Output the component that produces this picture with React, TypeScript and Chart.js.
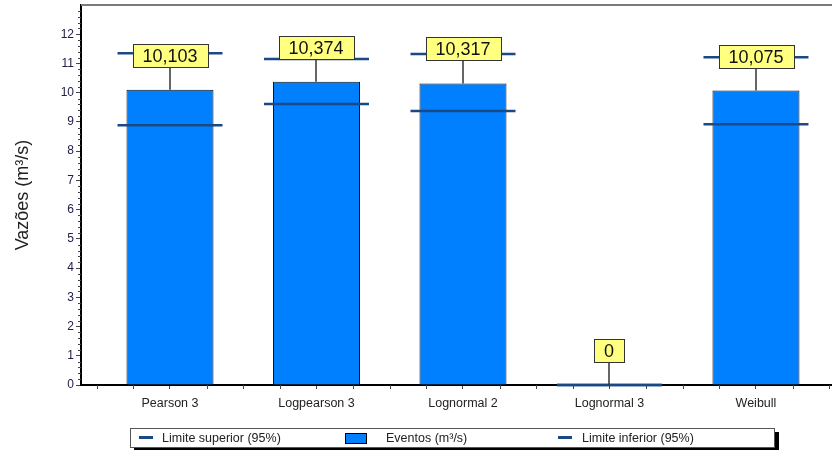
import React, { useEffect, useRef } from 'react';
import { Chart, registerables } from 'chart.js';

Chart.register(...registerables);

const categories = ['Pearson 3', 'Logpearson 3', 'Lognormal 2', 'Lognormal 3', 'Weibull'];
const eventos = [10.103, 10.374, 10.317, 0, 10.075];
const limiteSuperior = [11.35, 11.15, 11.32, 0, 11.21];
const limiteInferior = [8.89, 9.61, 9.37, 0, 8.92];
const yTickValues = [0, 1, 2, 3, 4, 5, 6, 7, 8, 9, 10, 11, 12];
const legendLabels = ['Limite superior (95%)', 'Eventos (m³/s)', 'Limite inferior (95%)'];

const FONT = "'Liberation Sans', Arial, sans-serif";
const BAR_COLOR = '#0080ff';
const LIMIT_COLOR = '#1a4a86';

const fmt = (v: number) => (v === 0 ? '0' : v.toFixed(3).replace('.', ','));

const decorPlugin = {
  id: 'decor',
  beforeDatasetsDraw(chart: any) {
    const { ctx, chartArea, scales } = chart;
    ctx.save();
    // top frame line
    ctx.strokeStyle = '#7a7a7a';
    ctx.lineWidth = 2;
    ctx.beginPath();
    ctx.moveTo(chartArea.left, chartArea.top);
    ctx.lineTo(chartArea.right, chartArea.top);
    ctx.stroke();
    // minor ticks
    ctx.strokeStyle = '#444';
    ctx.lineWidth = 1;
    const y = scales.y;
    for (let k = 0; k <= 65; k++) {
      const v = k * 0.2;
      if (k % 5 === 0) continue;
      const py = Math.round(y.getPixelForValue(v)) + 0.5;
      ctx.beginPath();
      ctx.moveTo(chartArea.left - 3, py);
      ctx.lineTo(chartArea.left, py);
      ctx.stroke();
    }
    const x = scales.x;
    for (let k = -2; k <= 18; k++) {
      const v = k * 0.25;
      if (k % 4 === 0) continue;
      const px = Math.round(x.getPixelForValue(v)) + 0.5;
      if (px > chartArea.right) continue;
      ctx.beginPath();
      ctx.moveTo(px, chartArea.bottom);
      ctx.lineTo(px, chartArea.bottom + 4);
      ctx.stroke();
    }
    ctx.restore();
  },
  afterDatasetsDraw(chart: any) {
    const { ctx } = chart;
    const meta = chart.getDatasetMeta(1);
    ctx.save();
    ctx.font = `18px ${FONT}`;
    meta.data.forEach((el: any, i: number) => {
      const text = fmt(eventos[i]);
      const top = el.y;
      const gap = 23;
      const bh = 23;
      const tw = ctx.measureText(text).width;
      const bw = Math.round(tw + 20);
      const cx = Math.round(el.x);
      ctx.strokeStyle = '#333';
      ctx.lineWidth = 1.5;
      ctx.beginPath();
      ctx.moveTo(cx, top);
      ctx.lineTo(cx, top - gap);
      ctx.stroke();
      const bx = Math.round(cx - bw / 2) + 0.5;
      const by = Math.round(top - gap - bh) + 0.5;
      ctx.fillStyle = '#ffff80';
      ctx.fillRect(bx, by, bw, bh);
      ctx.lineWidth = 1;
      ctx.strokeStyle = '#333';
      ctx.strokeRect(bx, by, bw, bh);
      ctx.fillStyle = '#111';
      ctx.textAlign = 'center';
      ctx.textBaseline = 'middle';
      ctx.fillText(text, cx, by + bh / 2 + 1);
    });
    ctx.restore();
  },
};

function ChartCanvas() {
  const ref = useRef<HTMLCanvasElement | null>(null);
  useEffect(() => {
    if (!ref.current) return;
    const chart = new Chart(ref.current, {
      type: 'bar',
      data: {
        datasets: [
          {
            type: 'scatter',
            label: legendLabels[0],
            data: limiteSuperior.map((v, i) => ({ x: i, y: v })),
            pointStyle: 'line',
            pointRadius: 52.5,
            pointBorderWidth: 2.5,
            pointBorderColor: LIMIT_COLOR,
            borderColor: LIMIT_COLOR,
            showLine: false,
            clip: false,
            order: 1,
          } as any,
          {
            type: 'bar',
            label: legendLabels[1],
            data: eventos.map((v, i) => ({ x: i, y: v })),
            backgroundColor: BAR_COLOR,
            borderColor: '#111',
            borderWidth: 1,
            barPercentage: 0.594,
            categoryPercentage: 1,
            order: 2,
          } as any,
          {
            type: 'scatter',
            label: legendLabels[2],
            data: limiteInferior.map((v, i) => ({ x: i, y: v })),
            pointStyle: 'line',
            pointRadius: 52.5,
            pointBorderWidth: 2.5,
            pointBorderColor: LIMIT_COLOR,
            borderColor: LIMIT_COLOR,
            showLine: false,
            clip: false,
            order: 1,
          } as any,
        ],
      },
      options: {
        responsive: false,
        animation: false,
        events: [],
        layout: { autoPadding: false, padding: { top: 5, bottom: 35, left: 0, right: 0 } },
        plugins: { legend: { display: false }, tooltip: { enabled: false } },
        scales: {
          x: {
            type: 'linear',
            min: -0.6075,
            max: 4.519,
            offset: false,
            afterBuildTicks: (s: any) => {
              s.ticks = categories.map((_, i) => ({ value: i }));
            },
            afterFit: (s: any) => {
              s.height = 30;
              s.paddingLeft = 0;
              s.paddingRight = 0;
            },
            ticks: {
              callback: (v: any) => categories[Math.round(Number(v))] ?? '',
              font: { family: FONT, size: 12.5 },
              color: '#222',
              padding: 7,
              autoSkip: false,
              maxRotation: 0,
            },
            grid: { display: true, offset: false, drawOnChartArea: false, drawTicks: true, tickLength: 4, color: '#444' },
            border: { display: true, color: '#000', width: 2 },
          },
          y: {
            type: 'linear',
            min: 0,
            max: 13,
            afterBuildTicks: (s: any) => {
              s.ticks = yTickValues.map((v) => ({ value: v }));
            },
            afterFit: (s: any) => {
              s.width = 81;
              s.paddingTop = 0;
              s.paddingBottom = 0;
            },
            ticks: {
              callback: (v: any) => String(v),
              font: { family: FONT, size: 12 },
              color: '#20204a',
              padding: 2,
              autoSkip: false,
            },
            grid: { display: true, drawOnChartArea: false, drawTicks: true, tickLength: 5, color: '#444' },
            border: { display: true, color: '#000', width: 2 },
            title: {
              display: true,
              text: 'Vazões (m³/s)',
              font: { family: FONT, size: 18 },
              color: '#222',
              padding: { top: 12, bottom: 0 },
            },
          },
        },
      },
      plugins: [decorPlugin],
    } as any);
    return () => chart.destroy();
  }, []);
  return <canvas ref={ref} width={832} height={450} style={{ display: 'block' }} />;
}

function Legend() {
  const text: React.CSSProperties = {
    position: 'absolute',
    top: 0,
    lineHeight: '18px',
    fontFamily: FONT,
    fontSize: '12.5px',
    color: '#222',
    whiteSpace: 'nowrap',
  };
  const line = (left: number): React.CSSProperties => ({
    position: 'absolute',
    left,
    top: 7,
    width: 14,
    height: 3,
    background: LIMIT_COLOR,
  });
  return (
    <div
      style={{
        position: 'absolute',
        left: 130,
        top: 428,
        width: 643,
        height: 18,
        border: '1px solid #555',
        background: '#fff',
        boxShadow: '4px 4px 0 #000',
      }}
    >
      <div style={line(8)} />
      <div style={{ ...text, left: 31 }}>{legendLabels[0]}</div>
      <div
        style={{
          position: 'absolute',
          left: 214,
          top: 4,
          width: 20,
          height: 9,
          background: BAR_COLOR,
          border: '1px solid #000',
        }}
      />
      <div style={{ ...text, left: 255 }}>{legendLabels[1]}</div>
      <div style={line(427)} />
      <div style={{ ...text, left: 451 }}>{legendLabels[2]}</div>
    </div>
  );
}

export default function App() {
  return (
    <div
      style={{
        position: 'absolute',
        left: 0,
        top: 0,
        width: 832,
        height: 450,
        overflow: 'hidden',
        background: '#fff',
      }}
    >
      <ChartCanvas />
      <Legend />
    </div>
  );
}
